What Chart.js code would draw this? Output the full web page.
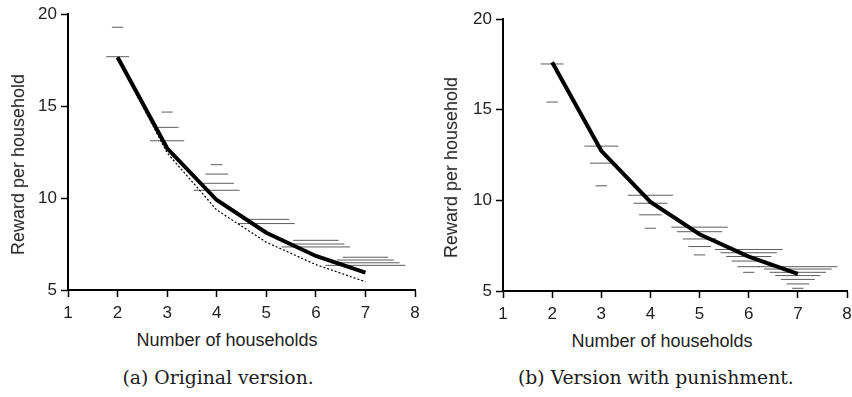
<!DOCTYPE html>
<html>
<head>
<meta charset="utf-8">
<script src="https://cdn.jsdelivr.net/npm/chart.js@4.4.1/dist/chart.umd.min.js"></script>
<style>
  html, body { margin: 0; padding: 0; background: #fff; }
  body { width: 852px; height: 397px; position: relative; overflow: hidden; }
  canvas { position: absolute; top: 0; }
  .t { position: absolute; font-family: "Liberation Sans", Arial, sans-serif; font-size: 18px; color: #222; white-space: nowrap; }
  .cap { position: absolute; font-family: "DejaVu Serif", serif; font-size: 18.8px; color: #1a1a1a; white-space: nowrap; }
</style>
</head>
<body>
<canvas id="c1" width="430" height="330" style="left:0px"></canvas>
<canvas id="c2" width="422" height="330" style="left:430px"></canvas>
<div class="t" id="yl1">Reward per household</div>
<div class="t" id="yl2">Reward per household</div>
<div class="t" id="xl1">Number of households</div>
<div class="t" id="xl2">Number of households</div>
<div class="cap" id="cap1">(a) Original version.</div>
<div class="cap" id="cap2">(b) Version with punishment.</div>
<script>
// ---- data ----
const households = [2, 3, 4, 5, 6, 7];
const meanOriginal = [17.65, 12.70, 9.89, 8.11, 6.85, 5.94];
const expectedOriginal = [17.60, 12.45, 9.35, 7.60, 6.38, 5.45];
const meanPunishment = [17.61, 12.73, 9.91, 8.13, 6.90, 5.94];

const origN      = [2, 2, 3, 3, 3, 4, 4, 4, 4, 5, 5, 6, 6, 6, 7, 7, 7, 7];
const origReward = [19.28, 17.68, 14.67, 13.84, 13.11, 11.81, 11.30, 10.80, 10.42, 8.84, 8.61, 7.70, 7.50, 7.34, 6.78, 6.63, 6.48, 6.34];
const origCount  = [1, 2, 1, 2, 3, 1, 2, 3, 4, 4, 5, 4, 5, 6, 4, 5, 6, 7];

const punN      = [2, 2, 3, 3, 3, 4, 4, 4, 4, 5, 5, 5, 5, 5, 6, 6, 6, 6, 6, 6, 7, 7, 7, 7, 7, 7, 7];
const punReward = [17.52, 15.42, 12.99, 12.05, 10.80, 10.28, 9.84, 9.20, 8.46, 8.52, 8.27, 7.87, 7.45, 6.99, 7.29, 7.11, 6.90, 6.65, 6.34, 6.03, 6.34, 6.21, 6.03, 5.85, 5.64, 5.39, 5.15];
const punCount  = [2, 1, 3, 2, 1, 4, 3, 2, 1, 5, 4, 3, 2, 1, 6, 5, 4, 3, 2, 1, 7, 6, 5, 4, 3, 2, 1];

const xTicks = [1, 2, 3, 4, 5, 6, 7, 8];
const yTicks = [5, 10, 15, 20];

// ---- helpers ----
const HALF_PER_COUNT = 0.115; // half segment length per observation, in x units
function segmentPoints(ns, vals, counts) {
  const pts = [];
  ns.forEach((n, i) => {
    const h = counts[i] * HALF_PER_COUNT;
    pts.push({x: n - h, y: vals[i]}, {x: n + h, y: vals[i]}, {x: n, y: null});
  });
  return pts;
}
function linePoints(ns, vals) { return ns.map((n, i) => ({x: n, y: vals[i]})); }

Chart.defaults.font.family = '"Liberation Sans", Arial, sans-serif';
Chart.defaults.font.size = 17;
Chart.defaults.color = '#222';

function makeChart(id, datasets, pad) {
  return new Chart(document.getElementById(id), {
    type: 'scatter',
    data: { datasets },
    options: {
      responsive: false, animation: false,
      layout: { padding: pad },
      plugins: { legend: { display: false }, tooltip: { enabled: false } },
      scales: {
        x: {
          type: 'linear', min: 1, max: 8,
          afterBuildTicks: s => { s.ticks = xTicks.map(v => ({value: v})); },
          afterFit: s => { s.height = 30; s.paddingLeft = 0; s.paddingRight = 0; },
          grid: { drawOnChartArea: false, drawTicks: true, tickLength: 7, tickColor: '#000', tickWidth: 1.5 },
          border: { display: true, color: '#000', width: 2 },
          ticks: { padding: 6, color: '#222' }
        },
        y: {
          type: 'linear', min: 5, max: 20,
          afterBuildTicks: s => { s.ticks = yTicks.map(v => ({value: v})); },
          afterFit: s => { s.width = 40; s.paddingTop = 0; s.paddingBottom = 0; },
          grid: { drawOnChartArea: false, drawTicks: true, tickLength: 7, tickColor: '#000', tickWidth: 1.5 },
          border: { display: true, color: '#000', width: 2 },
          ticks: { padding: 4, color: '#222' }
        }
      }
    }
  });
}

const segStyle = { showLine: true, spanGaps: false, borderColor: '#5c5c5c', borderWidth: 1, pointRadius: 0, order: 3 };
const meanStyle = { showLine: true, borderColor: '#000', borderWidth: 4, pointRadius: 0, order: 0, borderCapStyle: 'butt', borderJoinStyle: 'miter' };

makeChart('c1', [
  Object.assign({ data: linePoints(households, meanOriginal) }, meanStyle),
  { data: linePoints(households, expectedOriginal), showLine: true, borderColor: '#000', borderWidth: 1.2, borderDash: [2, 2], pointRadius: 0, order: 1 },
  Object.assign({ data: segmentPoints(origN, origReward, origCount) }, segStyle)
], { left: 28, top: 14, right: 15, bottom: 10 });

makeChart('c2', [
  Object.assign({ data: linePoints(households, meanPunishment) }, meanStyle),
  Object.assign({ data: segmentPoints(punN, punReward, punCount) }, segStyle)
], { left: 33, top: 19, right: 5, bottom: 9 });

// ---- text placement ----
function place(id, cx, cy, rot) {
  const el = document.getElementById(id);
  const w = el.offsetWidth, h = el.offsetHeight;
  el.style.left = (cx - w / 2) + 'px';
  el.style.top = (cy - h / 2) + 'px';
  if (rot) el.style.transform = 'rotate(-90deg)';
}
place('yl1', 18.5, 164.5, true);
place('yl2', 451, 167.5, true);
place('xl1', 227, 340);
place('xl2', 662, 341);
place('cap1', 218, 377);
place('cap2', 656, 377);
</script>
</body>
</html>
